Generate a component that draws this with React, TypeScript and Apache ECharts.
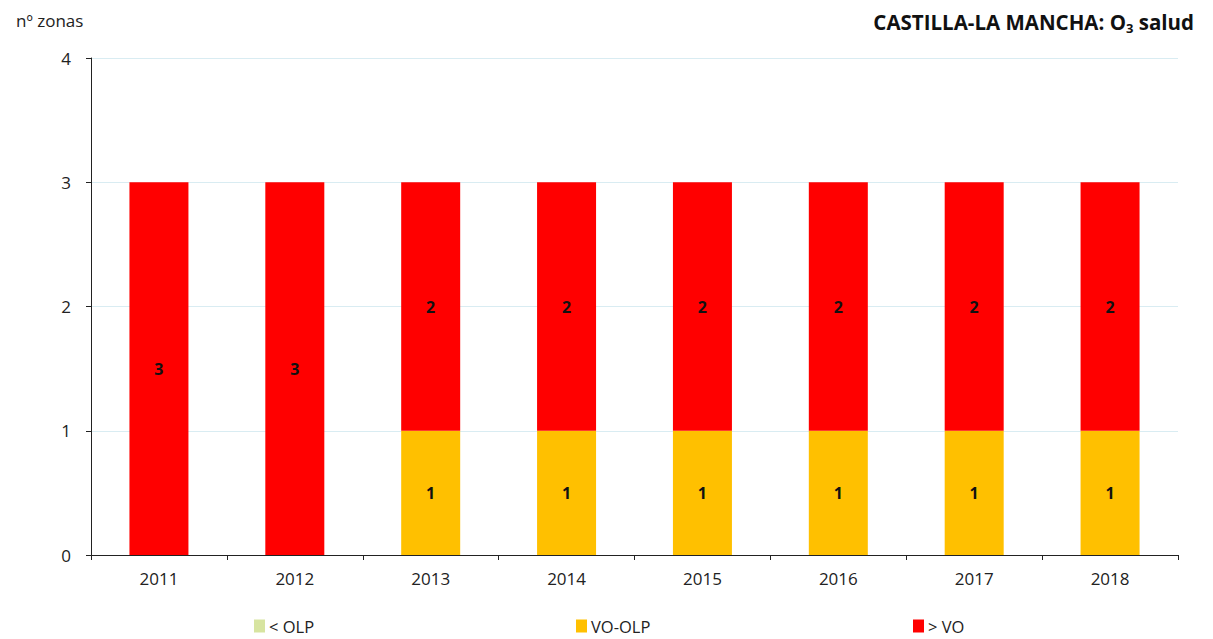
import React, { useEffect, useRef } from "react";
import * as echarts from "echarts";

const years = ["2011", "2012", "2013", "2014", "2015", "2016", "2017", "2018"];
const belowOLP = [0, 0, 0, 0, 0, 0, 0, 0];
const voOLP = [0, 0, 1, 1, 1, 1, 1, 1];
const aboveVO = [3, 3, 2, 2, 2, 2, 2, 2];
const seriesNames = ["< OLP", "VO-OLP", "> VO"];
const seriesColors = ["#d7e4a0", "#ffc000", "#ff0000"];

const FONT = "'Open Sans', 'Noto Sans', sans-serif";

export default function App() {
  const ref = useRef<HTMLDivElement>(null);
  useEffect(() => {
    if (!ref.current) return;
    const chart = echarts.init(ref.current, undefined, { renderer: "svg" });
    const dataSets = [belowOLP, voOLP, aboveVO];
    const labelStyle = {
      show: true,
      position: "inside",
      color: "#111",
      fontWeight: "bold",
      fontSize: 16,
      fontFamily: FONT,
      formatter: (p: any) => (p.value ? String(p.value) : ""),
    };
    const legendLefts = [254, 576, 913];
    chart.setOption({
      animation: false,
      textStyle: { fontFamily: FONT },
      grid: { left: 91, right: 35, top: 58, bottom: 84, containLabel: false },
      title: [
        {
          text: "{b|CASTILLA-LA MANCHA: O}{s|3}{b| salud}",
          right: 14,
          top: 4,
          textStyle: {
            rich: {
              b: { fontSize: 20.5, fontWeight: "bold", color: "#111", fontFamily: FONT },
              s: { fontSize: 13, fontWeight: "bold", color: "#111", fontFamily: FONT, padding: [12, 0, 0, 0] },
            },
          },
        },
        {
          text: "nº zonas",
          left: 11,
          top: 7,
          textStyle: { fontSize: 17, fontWeight: "normal", color: "#222", fontFamily: FONT },
        },
      ],
      legend: seriesNames.map((n, i) => ({
        data: [n],
        left: legendLefts[i],
        top: 617,
        padding: 0,
        itemWidth: 11,
        itemHeight: 13,
        itemGap: 4,
        icon: "rect",
        textStyle: { fontSize: 16.5, color: "#222", fontFamily: FONT, padding: [0, 0, 0, -1], lineHeight: 18 },
      })),
      xAxis: {
        type: "category",
        data: years,
        axisLine: { lineStyle: { color: "#222", width: 1 } },
        axisTick: { show: true, length: 5, lineStyle: { color: "#222" } },
        axisLabel: { color: "#222", fontSize: 17, margin: 15, fontFamily: FONT },
      },
      yAxis: {
        type: "value",
        min: 0,
        max: 4,
        interval: 1,
        axisLine: { show: true, lineStyle: { color: "#222", width: 1 } },
        axisTick: { show: true, length: 5, lineStyle: { color: "#222" } },
        axisLabel: { color: "#222", fontSize: 17, margin: 20, fontFamily: FONT },
        splitLine: { lineStyle: { color: "#d9ecf2", width: 1 } },
      },
      series: seriesNames.map((n, i) => ({
        name: n,
        type: "bar",
        stack: "total",
        data: dataSets[i],
        barWidth: 59,
        itemStyle: { color: seriesColors[i] },
        label: labelStyle,
      })),
    });
    return () => chart.dispose();
  }, []);
  return <div ref={ref} style={{ width: 1213, height: 639, position: "absolute", left: 0, top: 0 }} />;
}
